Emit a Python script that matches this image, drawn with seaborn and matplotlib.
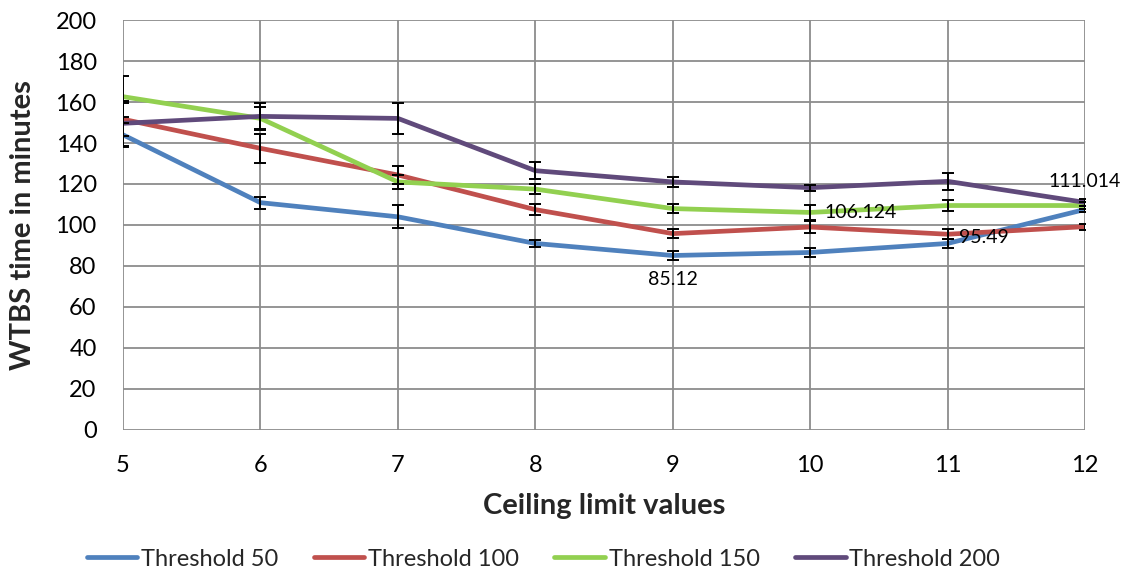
import numpy as np
import pandas as pd
import matplotlib
matplotlib.use("Agg")
import matplotlib.pyplot as plt
import seaborn as sns

ceiling = [5, 6, 7, 8, 9, 10, 11, 12]
series_names = ["Threshold 50", "Threshold 100", "Threshold 150", "Threshold 200"]
thr50 = [144.0, 110.9, 104.0, 91.0, 85.12, 86.6, 91.0, 107.6]
thr100 = [151.6, 137.4, 124.4, 107.5, 95.8, 99.0, 95.49, 99.2]
thr150 = [162.6, 152.0, 121.0, 117.5, 108.0, 106.124, 109.5, 109.5]
thr200 = [149.6, 153.0, 152.0, 126.5, 121.0, 118.2, 121.3, 111.014]
err50 = [6.0, 3.0, 5.7, 1.5, 2.3, 2.0, 2.0, 1.5]
err100 = [8.0, 7.0, 4.4, 2.5, 2.2, 3.0, 2.4, 1.5]
err150 = [10.0, 5.7, 3.6, 2.5, 2.2, 3.7, 2.5, 1.5]
err200 = [11.0, 6.3, 7.6, 4.0, 2.5, 1.5, 4.2, 1.8]
labels_text = {("Threshold 50", 9): "85.12", ("Threshold 150", 10): "106.124",
               ("Threshold 100", 11): "95.49", ("Threshold 200", 12): "111.014"}
colors = ["#4F81BD", "#C0504D", "#92D050", "#604A7B"]

values = [thr50, thr100, thr150, thr200]
errors = [err50, err100, err150, err200]
df = pd.DataFrame({
    "ceiling": np.tile(ceiling, 4),
    "value": np.concatenate(values),
    "series": np.repeat(series_names, len(ceiling)),
})

sns.set_theme(style="white")
plt.rcParams["font.family"] = ["Lato", "DejaVu Sans"]

fig = plt.figure(figsize=(11.35, 5.75), dpi=100)
ax = fig.add_axes([0.1084, 0.2522, 0.8476, 0.7130])

sns.lineplot(data=df, x="ceiling", y="value", hue="series", palette=colors,
             linewidth=3.4, ax=ax, legend=True, zorder=3)

for v, e in zip(values, errors):
    ax.errorbar(ceiling, v, yerr=e, fmt="none", ecolor="black", elinewidth=1.4,
                capsize=4.5, capthick=1.4, zorder=4)

# data labels
label_pos = {
    ("Threshold 50", 9): (0, -17, "center", "center"),
    ("Threshold 150", 10): (10, 0, "left", "center"),
    ("Threshold 100", 11): (8, -2, "left", "center"),
    ("Threshold 200", 12): (0, 15, "center", "center"),
}
for (name, xv), txt in labels_text.items():
    i = series_names.index(name)
    yv = values[i][ceiling.index(xv)]
    dx, dy, ha, va = label_pos[(name, xv)]
    ax.annotate(txt, (xv, yv), xytext=(dx, dy), textcoords="offset points",
                ha=ha, va=va, fontsize=14, color="black", zorder=5,
                annotation_clip=False)

ax.set_xlim(5, 12)
ax.set_ylim(0, 200)
ax.set_xticks(ceiling)
ax.set_yticks(np.arange(0, 201, 20))
ax.grid(True, color="#8C8C8C", linewidth=1.3, zorder=0)
ax.set_axisbelow(True)
for s in ax.spines.values():
    s.set_visible(False)
ax.tick_params(axis="both", labelsize=17, colors="black", length=5,
               width=1.3, color="#8C8C8C", direction="out")
ax.tick_params(axis="y", pad=14)
ax.tick_params(axis="x", pad=13)
ax.set_xlabel("Ceiling limit values", fontsize=21, fontweight="bold", labelpad=12)
ax.set_ylabel("WTBS time in minutes", fontsize=21, fontweight="bold", labelpad=14)

handles, labs = ax.get_legend_handles_labels()
ax.legend(handles, labs, loc="center", bbox_to_anchor=(0.437, -0.315), ncol=4,
          frameon=False, fontsize=17, handlelength=2.15, handletextpad=0.15,
          columnspacing=1.5)

fig.savefig("out.png", dpi=100)
